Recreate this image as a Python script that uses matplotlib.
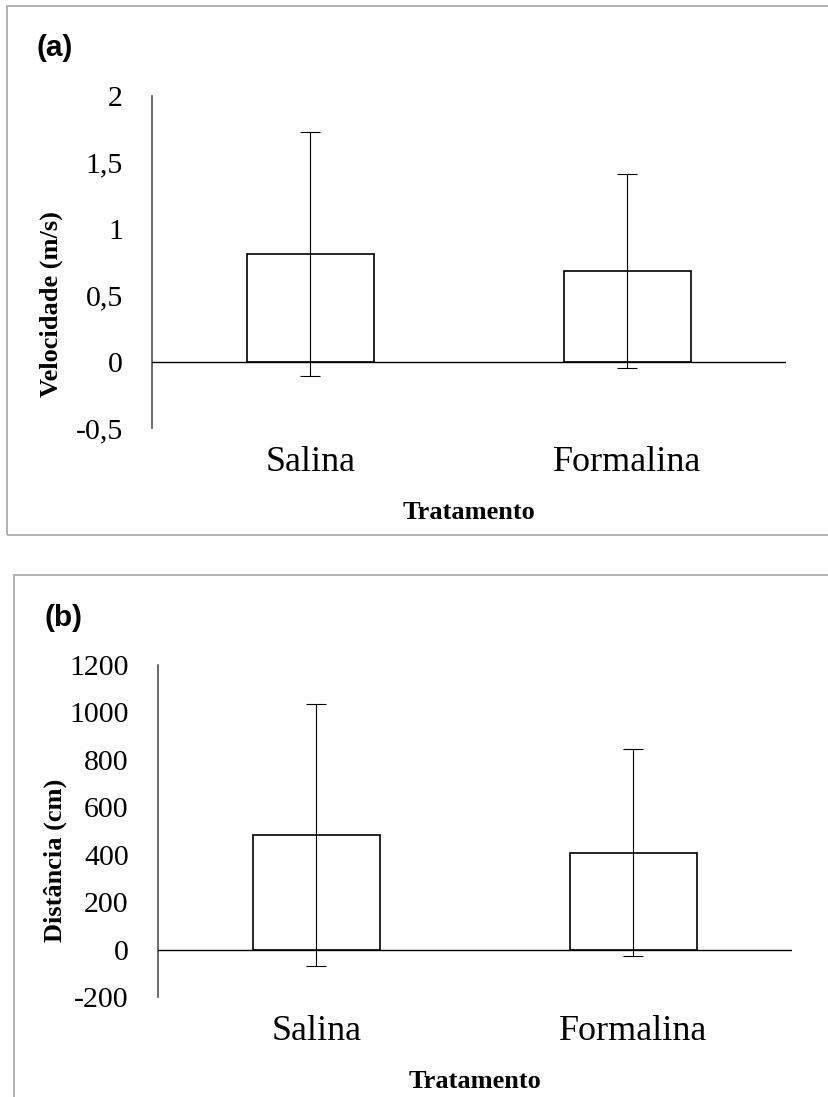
import matplotlib
matplotlib.use("Agg")
import matplotlib.pyplot as plt
from matplotlib.patches import Rectangle

categories = ["Salina", "Formalina"]

vel_means = [0.81, 0.68]
vel_err = [0.92, 0.73]
vel_ticks = [-0.5, 0, 0.5, 1, 1.5, 2]
vel_ticklabels = ["-0,5", "0", "0,5", "1", "1,5", "2"]

dist_means = [482, 409]
dist_err = [552, 437]
dist_ticks = [-200, 0, 200, 400, 600, 800, 1000, 1200]
dist_ticklabels = ["-200", "0", "200", "400", "600", "800", "1000", "1200"]

W, H = 829, 1097
fig = plt.figure(figsize=(W / 100, H / 100), dpi=100)
fig.patch.set_facecolor("white")

SERIF = ["Liberation Serif", "DejaVu Serif"]
SANS = ["Liberation Sans", "DejaVu Sans"]


def px_axes(x0, y0, x1, y1):
    return fig.add_axes([x0 / W, 1 - y1 / H, (x1 - x0) / W, (y1 - y0) / H])


def panel(ax, means, errs, ticks, ticklabels, ylabel, ylab_pos):
    x = list(range(len(categories)))
    ax.bar(x, means, width=0.4, color="white", edgecolor="black",
           linewidth=1.2, zorder=2)
    ax.errorbar(x, means, yerr=errs, fmt="none", ecolor="black",
                elinewidth=0.8, capsize=7, capthick=0.8, zorder=3)
    ax.axhline(0, color="black", linewidth=1.0, zorder=4)
    ax.set_xlim(-0.5, 1.5)
    ax.set_ylim(ticks[0], ticks[-1])
    ax.set_yticks(ticks)
    ax.set_yticklabels(ticklabels, family=SERIF, fontsize=21.5)
    ax.set_xticks(x)
    ax.set_xticklabels(categories, family=SERIF, fontsize=26)
    ax.tick_params(axis="y", length=0, pad=21)
    ax.tick_params(axis="x", length=0, pad=13)
    for s in ["top", "right", "bottom"]:
        ax.spines[s].set_visible(False)
    ax.spines["left"].set_color("#404040")
    ax.spines["left"].set_linewidth(1.1)
    ax.set_xlabel("Tratamento", family=SERIF, fontsize=19,
                  fontweight="bold", labelpad=16)
    ax.set_ylabel(ylabel, family=SERIF, fontsize=19, fontweight="bold",
                  va="center", ha="center")
    ax.yaxis.set_label_coords(*ylab_pos)
    ax.patch.set_alpha(0)


# panel frames
fig.patches.append(Rectangle((7 / W, 1 - 535 / H), (835 - 7) / W, (535 - 6) / H,
                             transform=fig.transFigure, fill=False,
                             edgecolor="#a6a6a6", linewidth=1.2))
fig.patches.append(Rectangle((14 / W, 1 - 1105 / H), (835 - 14) / W, (1105 - 574.5) / H,
                             transform=fig.transFigure, fill=False,
                             edgecolor="#a6a6a6", linewidth=1.2))

ax1 = px_axes(152, 96, 786, 428)
panel(ax1, vel_means, vel_err, vel_ticks, vel_ticklabels,
      "Velocidade (m/s)", (-0.159, 0.373))

ax2 = px_axes(158, 665, 792, 997)
panel(ax2, dist_means, dist_err, dist_ticks, dist_ticklabels,
      "Distância (cm)", (-0.1625, 0.413))

fig.text(37 / W, 1 - 48 / H, "(a)", family=SANS, fontweight="bold",
         fontsize=21.5, va="center", ha="left")
fig.text(45 / W, 1 - 618 / H, "(b)", family=SANS, fontweight="bold",
         fontsize=21.5, va="center", ha="left")

fig.savefig("out.png", dpi=100, facecolor="white")
